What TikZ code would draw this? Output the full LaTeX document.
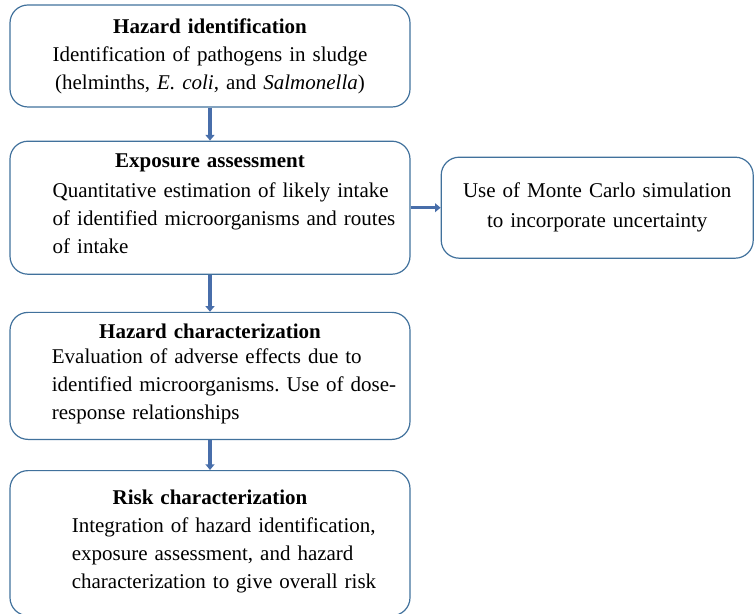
\documentclass[tikz,border=0pt]{standalone}
\usepackage{fontspec}
\setmainfont{Liberation Serif}
\frenchspacing
\usepackage{tikz}
\usetikzlibrary{positioning, arrows.meta}
\definecolor{boxblue}{RGB}{65,113,156}
\definecolor{arrowblue}{RGB}{72,110,170}
\tikzset{
	node distance=16pt and 15pt,
	stage/.style= {
		rectangle,
		rounded corners=9pt,
		draw=boxblue,
		line width=0.6pt,
		inner xsep=4pt,
		text width=192pt,
		align=center,
		font=\fontsize{10.5}{14}\selectfont
	},
	flow/.style= {
		arrowblue,
		line width=1.6pt,
		-{Triangle[length=2.8pt,width=4.4pt]}
	}
}
\begin{document}
\begin{tikzpicture}

	\useasboundingbox (0,0) rectangle (377pt,-307pt);

	\node (hazid)[stage, minimum height=51pt] at (105pt,-28pt)
		{\textbf{Hazard identification}\\
		Identification of pathogens in sludge\\
		(helminths, \textit{E. coli}, and \textit{Salmonella})};

	\node (expo)[stage, minimum height=66.5pt, below=16.5pt of hazid]
		{\textbf{Exposure assessment}\\[2pt]
		\hspace*{14pt}\begin{tabular}{@{}l@{}}
		Quantitative estimation of likely intake\\
		of identified microorganisms and routes\\
		of intake
		\end{tabular}};

	\node (hazchar)[stage, minimum height=63.5pt, below=18.5pt of expo]
		{\textbf{Hazard characterization}\\[2pt]
		\hspace*{14pt}\begin{tabular}{@{}l@{}}
		Evaluation of adverse effects due to\\
		identified microorganisms. Use of dose-\\
		response relationships
		\end{tabular}};

	\node (risk)[stage, minimum height=72.5pt, below=15pt of hazchar]
		{\textbf{Risk characterization}\\[3pt]
		\hspace*{14pt}\begin{tabular}{@{}l@{}}
		Integration of hazard identification,\\
		exposure assessment, and hazard\\
		characterization to give overall risk
		\end{tabular}};

	\node (monte)[stage, text width=148pt, minimum height=50.5pt, right=15pt of expo]
		{Use of Monte Carlo simulation\\[1pt]
		to incorporate uncertainty};

	\draw[flow] (hazid) to (expo);
	\draw[flow] (expo) to (hazchar);
	\draw[flow] (hazchar) to (risk);
	\draw[flow] (expo) to (monte);

\end{tikzpicture}
\end{document}
